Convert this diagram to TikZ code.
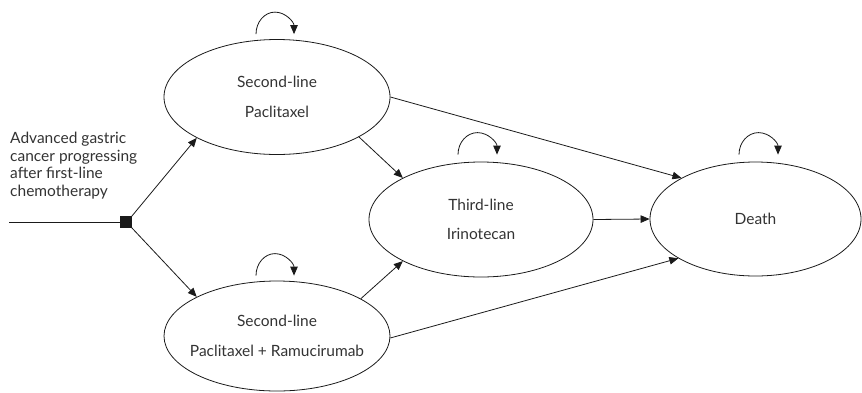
\documentclass[tikz,border=0pt]{standalone}
\usepackage{fontspec}
\setmainfont{Lato}
\usetikzlibrary{shapes.geometric,arrows.meta}
\definecolor{ink}{HTML}{1A1A1A}
\definecolor{txt}{HTML}{333333}
\tikzset{
  state/.style={draw=ink, line width=0.8pt, ellipse, inner sep=0pt, align=center,
    text=txt, font=\fontsize{15.5}{29.5}\selectfont},
  conn/.style={draw=ink, line width=0.8pt, -{Triangle[length=9pt,width=7.5pt]}},
  selfloop/.style={draw=ink, line width=0.8pt, -{Triangle[length=9pt,width=7.5pt]}},
  startsq/.style={fill=ink, draw=ink, minimum size=11pt, inner sep=0pt},
  labeltxt/.style={align=left, text=txt, inner sep=0pt, font=\fontsize{15.5}{17.6}\selectfont}
}
\begin{document}
\begin{tikzpicture}[x=1pt,y=-1pt]
\useasboundingbox (0,0) rectangle (862,392);
\node[state, minimum width=226pt, minimum height=115pt] (e1) at (277,97) {Second-line\\Paclitaxel};
\node[state, inner xsep=-30pt, inner ysep=-10pt, minimum width=226pt, minimum height=110pt] (e2) at (277,336) {Second-line\\Paclitaxel + Ramucirumab};
\node[state, minimum width=224pt, minimum height=115pt] (e3) at (481,219.5) {Third-line\\Irinotecan};
\node[state, minimum width=211pt, minimum height=114pt] (d) at (755.5,219) {Death};
\node[startsq] (sq) at (126,222) {};
\coordinate (in) at (9,222);
\node[labeltxt, anchor=west] (lbl) at (10,165.5) {Advanced gastric\\cancer progressing\\after first-line\\chemotherapy};

\draw[draw=ink, line width=0.8pt] (in) -- (sq.west);
\draw[conn] (sq.north east) -- (e1.207);
\draw[conn] (sq.south east) -- (e2.154.6);
\draw[conn] (e1.-26) -- (e3.152.3);
\draw[conn] (e2.24.2) -- (e3.208);
\draw[conn] (e1.0) -- (d.151);
\draw[conn] (e3.0) -- (d.180);
\draw[conn] (e2.-1) -- (d.207.3);

\draw[selfloop] ([xshift=-21pt,yshift=5pt]e1.north) arc[start angle=180,end angle=0,x radius=19pt,y radius=22pt];
\draw[selfloop] ([xshift=-21pt,yshift=5pt]e2.north) arc[start angle=180,end angle=0,x radius=19pt,y radius=22pt];
\draw[selfloop] ([xshift=-23pt,yshift=7pt]e3.north) arc[start angle=180,end angle=0,x radius=19.5pt,y radius=22pt];
\draw[selfloop] ([xshift=-16.5pt,yshift=7pt]d.north) arc[start angle=180,end angle=0,x radius=19.5pt,y radius=22pt];
\end{tikzpicture}
\end{document}
